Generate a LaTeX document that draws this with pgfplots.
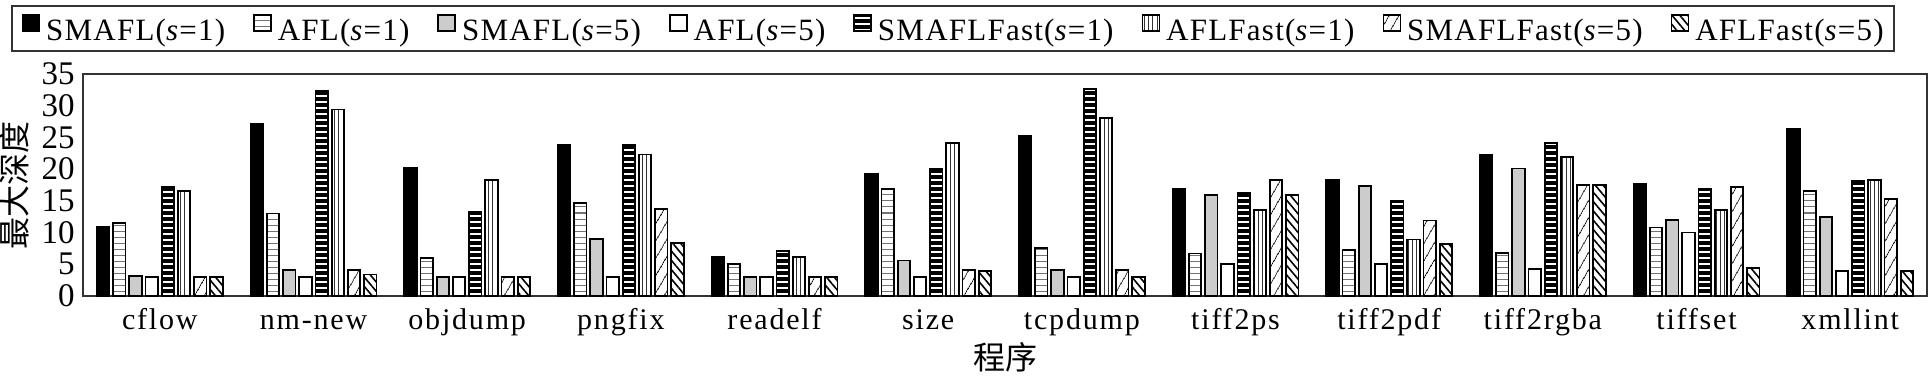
\documentclass[border=0pt]{standalone}
\usepackage{fontspec}
\setmainfont{Liberation Serif}
\newfontfamily\cjk{Noto Sans CJK SC}
\newfontfamily\spaced[LetterSpace=6]{Liberation Serif}
\newfontfamily\legfont[LetterSpace=4]{Liberation Serif}
\usepackage{pgfplots}
\pgfplotsset{compat=1.18}
\usetikzlibrary{patterns,patterns.meta}
\pgfplotsset{
  mybar/.style={draw=black, line width=0.9pt,
    legend image code/.code={\draw[##1,line width=0.8pt] (0pt,0pt) rectangle (8.5pt,8pt);}},
}
\begin{document}
\begin{tikzpicture}
\begin{axis}[
  at={(41.5pt,39.5pt)}, anchor=south west,
  scale only axis, width=922pt, height=111pt,
  ybar=1.9pt, bar width=6.2pt,
  xmin=-0.5, xmax=11.5, ymin=0, ymax=35,
  xtick={0,...,11},
  xticklabels={cflow,nm-new,objdump,pngfix,readelf,size,tcpdump,tiff2ps,tiff2pdf,tiff2rgba,tiffset,xmllint},
  ytick={0,5,...,35},
  major tick length=0pt,
  axis line style={line width=0.9pt, black!80},
  /pgf/number format/assume math mode=true,
  xticklabel style={font=\spaced\fontsize{15}{18}\selectfont, anchor=base, yshift=-16.5pt, inner sep=0pt},
  yticklabel style={font=\fontsize{16.5}{19}\selectfont, anchor=east, inner sep=0pt, xshift=-4pt},
  xlabel={\cjk 程序},
  ylabel={\cjk 最大深度},
  every axis x label/.style={at={(axis description cs:0.5,0)}, anchor=center, yshift=-30.5pt, font=\fontsize{16}{19}\selectfont},
  every axis y label/.style={at={(axis description cs:-0.0288,0.5)}, rotate=90, anchor=south, inner sep=0pt, font=\fontsize{16}{19}\selectfont},
  legend columns=8,
  legend style={at={(-0.0392,1.099)}, anchor=south west, draw=black!80, line width=0.9pt,
    font=\legfont\fontsize{15.5}{18}\selectfont, inner xsep=5pt, inner ysep=4pt,
    nodes={inner sep=0pt},
    /tikz/every odd column/.append style={column sep=3pt},
    /tikz/every even column/.append style={column sep=14pt}},
  legend cell align=left,
]
\addplot[mybar, fill=black] coordinates {(0,10.9)(1,27.1)(2,20.2)(3,23.8)(4,6.1)(5,19.3)(6,25.2)(7,16.9)(8,18.3)(9,22.3)(10,17.7)(11,26.4)};
\addlegendentry{SMAFL(\textit{s}=1)}
\addplot[mybar, pattern={Lines[angle=0,distance=3pt,line width=0.5pt]}, pattern color=black!55] coordinates {(0,11.5)(1,13.0)(2,6.0)(3,14.6)(4,5.0)(5,16.9)(6,7.6)(7,6.7)(8,7.2)(9,6.8)(10,10.8)(11,16.5)};
\addlegendentry{AFL(\textit{s}=1)}
\addplot[mybar, fill=black!20] coordinates {(0,3.2)(1,4.1)(2,3.0)(3,9.0)(4,3.0)(5,5.6)(6,4.1)(7,15.9)(8,17.3)(9,20.1)(10,12.0)(11,12.5)};
\addlegendentry{SMAFL(\textit{s}=5)}
\addplot[mybar, fill=white] coordinates {(0,3.0)(1,3.0)(2,3.0)(3,3.0)(4,3.0)(5,3.0)(6,3.0)(7,5.0)(8,5.0)(9,4.2)(10,10.0)(11,4.0)};
\addlegendentry{AFL(\textit{s}=5)}
\addplot[mybar, pattern={Lines[angle=0,distance=3pt,line width=1.8pt]}, pattern color=black] coordinates {(0,17.2)(1,32.4)(2,13.3)(3,23.8)(4,7.1)(5,20.0)(6,32.6)(7,16.3)(8,15.0)(9,24.1)(10,16.9)(11,18.1)};
\addlegendentry{SMAFLFast(\textit{s}=1)}
\addplot[mybar, pattern={Lines[angle=90,distance=2.2pt,line width=0.45pt]}, pattern color=black!80] coordinates {(0,16.5)(1,29.4)(2,18.3)(3,22.3)(4,6.2)(5,24.1)(6,28.1)(7,13.6)(8,8.9)(9,21.9)(10,13.6)(11,18.3)};
\addlegendentry{AFLFast(\textit{s}=1)}
\addplot[mybar, pattern={Lines[angle=60,distance=4pt,line width=0.5pt]}, pattern color=black] coordinates {(0,3.0)(1,4.1)(2,3.0)(3,13.7)(4,3.0)(5,4.1)(6,4.1)(7,18.3)(8,11.9)(9,17.5)(10,17.2)(11,15.3)};
\addlegendentry{SMAFLFast(\textit{s}=5)}
\addplot[mybar, pattern={Lines[angle=-50,distance=3pt,line width=0.8pt]}, pattern color=black] coordinates {(0,3.0)(1,3.4)(2,3.0)(3,8.3)(4,3.0)(5,3.9)(6,3.0)(7,15.9)(8,8.2)(9,17.5)(10,4.4)(11,4.0)};
\addlegendentry{AFLFast(\textit{s}=5)}
\end{axis}
\pgfresetboundingbox
\path[use as bounding box] (0,0) rectangle (965pt,187.5pt);
\end{tikzpicture}
\end{document}
